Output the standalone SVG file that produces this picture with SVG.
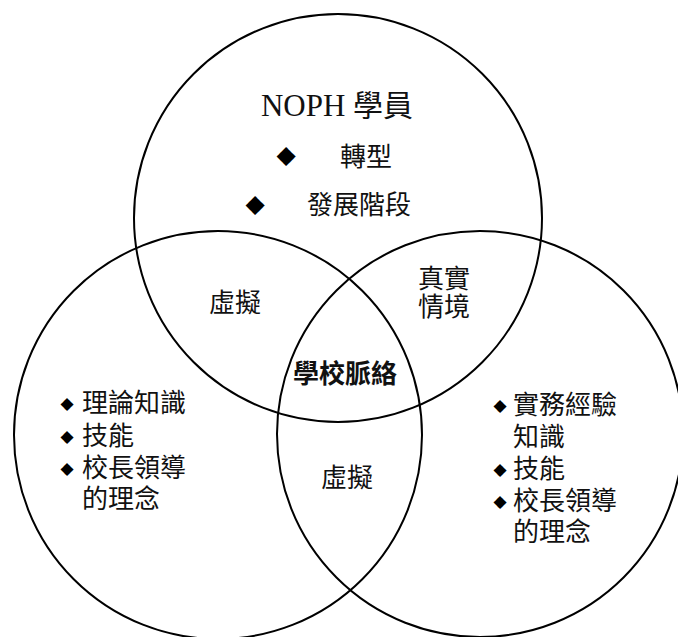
<svg xmlns="http://www.w3.org/2000/svg" width="678" height="637" viewBox="0 0 678 637">
<style>
.c{fill:none;stroke:#000;stroke-width:2}
.t{font-family:"Noto Sans CJK TC","Noto Sans CJK SC",sans-serif;font-size:26px;fill:#111}
.top{font-family:"Liberation Serif","Noto Sans CJK TC",serif;font-size:31px;fill:#111}
.b{font-family:"DejaVu Sans",sans-serif;fill:#000}
.bs{font-family:"DejaVu Sans",sans-serif;fill:#000;font-size:17px}
</style>
<rect width="678" height="637" fill="#fff"/>
<g id="circle-top"><circle class="c" cx="338" cy="218" r="204"/>
<text class="top" x="337" y="116" text-anchor="middle">NOPH <tspan font-family="Noto Sans CJK TC,sans-serif" font-size="30">學員</tspan></text>
<text class="b" x="286" y="163" font-size="25" text-anchor="middle">◆</text>
<text class="t" x="340" y="166" font-size="31">轉型</text>
<text class="b" x="255" y="212" font-size="25" text-anchor="middle">◆</text>
<text class="t" x="307" y="214" font-size="31">發展階段</text>
</g>
<g id="circle-left"><circle class="c" cx="218" cy="435" r="204"/>
<text class="bs" x="67" y="409" text-anchor="middle">◆</text>
<text class="t" x="82" y="412">理論知識</text>
<text class="bs" x="67" y="442" text-anchor="middle">◆</text>
<text class="t" x="82" y="445">技能</text>
<text class="bs" x="67" y="474" text-anchor="middle">◆</text>
<text class="t" x="82" y="477">校長領導</text>
<text class="t" x="82" y="508">的理念</text>
</g>
<g id="circle-right"><circle class="c" cx="480" cy="434" r="203"/>
<text class="bs" x="500" y="411" text-anchor="middle">◆</text>
<text class="t" x="513" y="414">實務經驗</text>
<text class="t" x="513" y="446">知識</text>
<text class="bs" x="500" y="475" text-anchor="middle">◆</text>
<text class="t" x="513" y="478">技能</text>
<text class="bs" x="500" y="507" text-anchor="middle">◆</text>
<text class="t" x="513" y="510">校長領導</text>
<text class="t" x="513" y="541">的理念</text>
</g>
<g id="overlaps">
<text class="t" x="235" y="312" text-anchor="middle">虛擬</text>
<text class="t" x="444" y="288" text-anchor="middle">真實</text>
<text class="t" x="444" y="316" text-anchor="middle">情境</text>
<text class="t" x="345" y="383" text-anchor="middle" font-size="27" font-weight="bold" fill="#000">學校脈絡</text>
<text class="t" x="347" y="487" text-anchor="middle">虛擬</text>
</g>
</svg>
